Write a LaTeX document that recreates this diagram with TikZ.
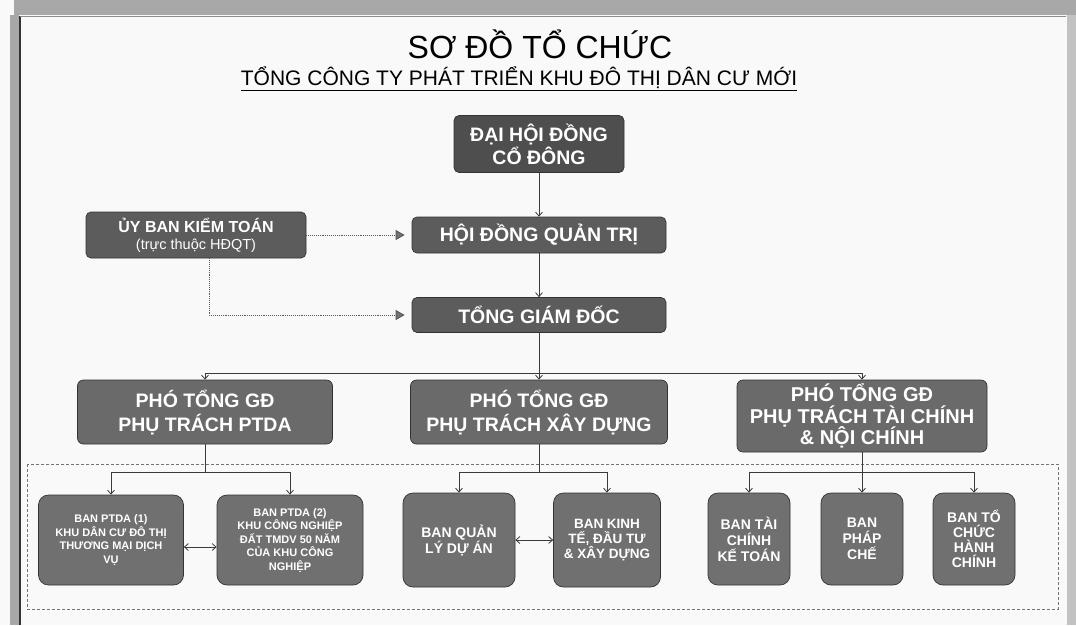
\documentclass[tikz,border=0pt]{standalone}
\usepackage{fontspec}
\setmainfont{Liberation Sans}
\usetikzlibrary{arrows.meta,calc}
\definecolor{pagebg}{HTML}{F9F9F9}
\definecolor{banddark}{HTML}{A8A8A8}
\definecolor{topbox}{HTML}{4E4E4E}
\definecolor{midbox}{HTML}{5C5C5C}
\definecolor{vpbox}{HTML}{6A6A6A}
\definecolor{lowbox}{HTML}{707070}
\definecolor{linecol}{HTML}{3A3A3A}
\newcommand{\fs}[2]{\fontsize{#1}{#2}\selectfont}
\tikzset{
  orgbox/.style={draw=black!80, line width=0.7pt, rounded corners=5pt, text=white, align=center, inner sep=0pt, font=\bfseries},
  topb/.style={orgbox, fill=topbox},
  midb/.style={orgbox, fill=midbox},
  vpb/.style={orgbox, fill=vpbox, rounded corners=6pt},
  lowb/.style={orgbox, fill=lowbox, rounded corners=10pt},
  conn/.style={draw=linecol, line width=0.8pt},
  arr/.style={conn, -{Straight Barb[length=4pt,width=7pt]}},
  darr/.style={conn, {Straight Barb[length=4pt,width=7pt]}-{Straight Barb[length=4pt,width=7pt]}},
  dotarr/.style={draw=black!65, line width=0.9pt, densely dotted, shorten >=7pt, -{Triangle[length=9pt,width=10pt,fill=black!55]}},
  frame/.style={draw=black!55, line width=0.8pt, densely dashed}
}
\begin{document}
\begin{tikzpicture}[x=1pt,y=-1pt]
\useasboundingbox (0,0) rectangle (1076,625);
\fill[pagebg] (0,0) rectangle (1076,625);
% scanned page edges
\fill[banddark] (14,0) rectangle (1076,15);
\fill[banddark] (10,15) rectangle (19,625);
\draw[black!80, line width=1.6pt] (20,16) -- (20,625);
\draw[black!45, line width=0.8pt] (20,16) -- (1066,16);
\fill[banddark!70] (1067,15) rectangle (1076,625);

% titles
\node[font=\fs{32}{36}] (title) at (540,44) {SƠ ĐỒ TỔ CHỨC};
\node[font=\fs{21}{24}] (subtitle) at (519,79) {\underline{TỔNG CÔNG TY PHÁT TRIỂN KHU ĐÔ THỊ DÂN CƯ MỚI}};

% top level
\node[topb, minimum width=170pt, minimum height=57pt, font=\bfseries\fs{19.5}{23}] (dhd) at (539,144) {ĐẠI HỘI ĐỒNG\\CỔ ĐÔNG};
\node[midb, minimum width=254pt, minimum height=36pt, font=\bfseries\fs{19.5}{22}] (hdqt) at (539,235) {HỘI ĐỒNG QUẢN TRỊ};
\node[midb, minimum width=254pt, minimum height=35pt, font=\bfseries\fs{19.5}{22}] (tgd) at (539,315) {TỔNG GIÁM ĐỐC};
\node[midb, minimum width=220pt, minimum height=46pt, font=\bfseries\fs{16}{17}] (ub) at (196,235) {ỦY BAN KIỂM TOÁN\\{\mdseries\fs{14.5}{16}(trực thuộc HĐQT)}};

% vice directors
\node[vpb, minimum width=255pt, minimum height=64pt, font=\bfseries\fs{19.5}{24}] (ptda) at (205,412) {PHÓ TỔNG GĐ\\PHỤ TRÁCH PTDA};
\node[vpb, minimum width=257pt, minimum height=64pt, font=\bfseries\fs{19.5}{24}] (ptxd) at (539,412) {PHÓ TỔNG GĐ\\PHỤ TRÁCH XÂY DỰNG};
\node[vpb, minimum width=250pt, minimum height=72pt, font=\bfseries\fs{20}{21.5}] (pttc) at (862,416) {PHÓ TỔNG GĐ\\PHỤ TRÁCH TÀI CHÍNH\\\& NỘI CHÍNH};

% departments frame
\draw[frame] (27,464) rectangle (1058,609);

% departments
\node[lowb, minimum width=145pt, minimum height=90pt, font=\bfseries\fs{11}{13.5}] (b1) at (111,540) {BAN PTDA (1)\\KHU DÂN CƯ ĐÔ THỊ\\THƯƠNG MẠI DỊCH\\VỤ};
\node[lowb, minimum width=146pt, minimum height=90pt, font=\bfseries\fs{11}{13.5}] (b2) at (290,540) {BAN PTDA (2)\\KHU CÔNG NGHIỆP\\ĐẤT TMDV 50 NĂM\\CỦA KHU CÔNG\\NGHIỆP};
\node[lowb, minimum width=112pt, minimum height=94pt, font=\bfseries\fs{14}{16}] (b3) at (459,540) {BAN QUẢN\\LÝ DỰ ÁN};
\node[lowb, minimum width=107pt, minimum height=94pt, font=\bfseries\fs{13.5}{15}] (b4) at (607,540) {BAN KINH\\TẾ, ĐẦU TƯ\\\& XÂY DỰNG};
\node[lowb, minimum width=82pt, minimum height=92pt, font=\bfseries\fs{14}{16}] (b5) at (749,539) {BAN TÀI\\CHÍNH\\KẾ TOÁN};
\node[lowb, minimum width=82pt, minimum height=92pt, font=\bfseries\fs{14}{16}] (b6) at (862,539) {BAN\\PHÁP\\CHẾ};
\node[lowb, minimum width=82pt, minimum height=92pt, font=\bfseries\fs{14}{15}] (b7) at (974,539) {BAN TỔ\\CHỨC\\HÀNH\\CHÍNH};

% connectors: top chain
\draw[arr] (dhd.south) -- (hdqt.north);
\draw[arr] (hdqt.south) -- (tgd.north);
\draw[dotarr] (ub.east) -- (hdqt.west);
\draw[dotarr] ([xshift=13pt]ub.south) |- (tgd.west);

% to vice directors
\draw[arr] (tgd.south) -- ++(0,41) -| (ptda.north);
\draw[arr] (tgd.south) -- ++(0,41) -| (pttc.north);
\draw[arr] (tgd.south) -- (ptxd.north);

% to departments
\draw[arr] (ptda.south) -- ++(0,28) -| (b1.north);
\draw[arr] (ptda.south) -- ++(0,28) -| (b2.north);
\draw[arr] (ptxd.south) -- ++(0,28) -| (b3.north);
\draw[arr] (ptxd.south) -- ++(0,28) -| (b4.north);
\draw[arr] (pttc.south) -- ++(0,20) -| (b5.north);
\draw[arr] (pttc.south) -- ++(0,20) -| (b7.north);
\draw[arr] (pttc.south) -- (b6.north);

% horizontal double arrows
\draw[darr] ([yshift=-7pt]b1.east) -- ([yshift=-7pt]b2.west);
\draw[darr] (b3.east) -- (b4.west);
\end{tikzpicture}
\end{document}
